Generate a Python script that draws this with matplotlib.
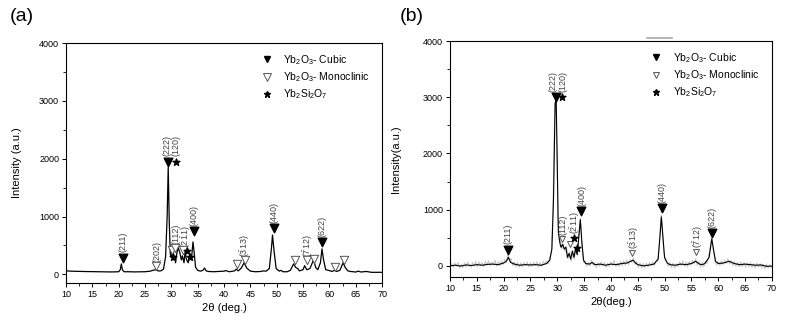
import numpy as np
import matplotlib
matplotlib.use('Agg')
import matplotlib.pyplot as plt
from matplotlib.lines import Line2D

plt.rcParams['font.family'] = ['Liberation Sans', 'DejaVu Sans']
plt.rcParams['mathtext.default'] = 'regular'

# (a) XRD pattern: (2theta, intensity)
pattern_a = [
    (10, 60), (11, 55), (12, 52), (13, 50), (14, 48), (15, 47), (16, 45), (17, 44),
    (18, 42), (19, 42), (20, 45), (20.3, 80), (20.5, 180), (20.7, 80), (21, 45),
    (22, 45), (23, 42), (24, 44), (25, 45), (26, 55), (26.5, 70), (27, 80), (27.5, 60),
    (28, 60), (28.5, 90), (28.9, 300), (29.2, 1000), (29.4, 1850), (29.6, 900),
    (29.8, 350), (30.0, 300), (30.2, 380), (30.4, 250), (30.6, 300), (30.8, 200),
    (31.0, 350), (31.3, 460), (31.6, 380), (31.9, 250), (32.1, 320), (32.4, 200),
    (32.6, 380), (32.9, 250), (33.2, 200), (33.5, 330), (33.8, 250), (34.1, 560),
    (34.3, 400), (34.6, 120), (35, 70), (35.5, 55), (36, 70), (36.3, 110), (36.6, 60),
    (37, 50), (38, 45), (39, 50), (40, 55), (40.3, 65), (41, 45), (42, 60), (42.3, 90),
    (42.7, 60), (43.3, 110), (43.8, 200), (44.3, 110), (45, 55), (46, 45), (47, 50),
    (47.5, 60), (48, 55), (48.6, 100), (49.0, 450), (49.2, 680), (49.5, 400),
    (49.9, 100), (50.5, 55), (50.8, 70), (51.2, 45), (52, 45), (52.6, 70), (53.2, 180),
    (53.6, 120), (54.0, 100), (54.3, 60), (55, 80), (55.3, 150), (55.7, 80), (56.3, 100),
    (57.0, 250), (57.4, 120), (57.8, 80), (58.3, 200), (58.6, 440), (58.9, 250),
    (59.3, 80), (60, 65), (60.5, 50), (61, 70), (61.4, 50), (62, 70), (62.6, 200),
    (63, 120), (63.5, 60), (64, 50), (65, 40), (65.5, 55), (66, 40), (67, 50), (68, 35),
    (69, 35), (70, 35),
]

# (b) smoothed pattern (black)
pattern_b = [
    (10, 0), (11, 10), (12, -5), (13, 15), (14, 5), (15, 20), (16, 10), (17, 25), (18, 30),
    (19, 20), (20, 50), (20.5, 80), (20.9, 150), (21.3, 60), (22, 30), (23, 10), (24, 20),
    (25, 15), (26, 20), (27, 10), (28, 40), (28.6, 100), (29.0, 300), (29.3, 1200),
    (29.6, 2900), (29.8, 2950), (30.0, 1800), (30.2, 600), (30.5, 400), (30.7, 330),
    (31.0, 380), (31.3, 300), (31.6, 330), (31.9, 150), (32.2, 220), (32.5, 120),
    (32.8, 260), (33.1, 150), (33.4, 300), (33.7, 200), (34.0, 500), (34.3, 820),
    (34.6, 400), (34.9, 100), (35.3, 40), (36, 30), (36.5, 60), (37, 20), (38, 30),
    (39, 10), (40, 30), (41, 20), (42, 40), (43, 50), (43.7, 80), (44.1, 100), (44.6, 50),
    (45, 20), (46, 0), (47, 10), (48, 30), (48.8, 120), (49.2, 600), (49.4, 870),
    (49.7, 500), (50, 150), (50.5, 50), (51, 20), (52, 10), (53, 30), (54, 20), (55, 40),
    (55.8, 80), (56.5, 30), (57, 20), (57.5, 40), (58.3, 150), (58.8, 480), (59.1, 300),
    (59.5, 80), (60, 40), (61, 50), (62, 80), (63, 40), (64, 20), (65, 30), (66, 20),
    (67, 10), (68, 15), (69, -10), (70, -5),
]

# (b) raw pattern (light gray, noisy)
raw_b = [
    (10.0, -20), (10.3, 40), (10.6, -30), (10.9, 50), (11.2, -10), (11.5, 60), (11.8, -40),
    (12.1, 30), (12.4, -30), (12.7, 50), (13.0, -20), (13.3, 70), (13.6, 0), (13.9, -30),
    (14.2, 60), (14.5, -10), (14.8, 80), (15.1, -20), (15.4, 70), (15.7, 0), (16.0, 60),
    (16.3, -20), (16.6, 80), (16.9, 10), (17.2, 90), (17.5, 0), (17.8, 70), (18.1, 10),
    (18.4, 100), (18.7, -10), (19.0, 80), (19.3, 0), (19.6, 90), (19.9, 20), (20.2, 110),
    (20.5, 60), (20.8, 200), (21.1, 90), (21.4, 130), (21.7, 0), (22.0, 70), (22.3, -20),
    (22.6, 60), (22.9, -30), (23.2, 50), (23.5, -20), (23.8, 60), (24.1, 0), (24.4, 70),
    (24.7, -20), (25.0, 50), (25.3, -10), (25.6, 60), (25.9, 0), (26.2, 70), (26.5, -20),
    (26.8, 60), (27.1, -10), (27.4, 80), (27.7, 20), (28.0, 90), (28.3, 30), (28.6, 150),
    (28.9, 250), (29.2, 1000), (29.5, 2700), (29.7, 2980), (29.9, 2300), (30.1, 900),
    (30.3, 500), (30.6, 420), (30.9, 300), (31.1, 400), (31.4, 260), (31.7, 350),
    (32.0, 120), (32.3, 250), (32.6, 80), (32.9, 280), (33.2, 120), (33.5, 320),
    (33.8, 180), (34.1, 650), (34.3, 840), (34.6, 350), (34.9, 60), (35.2, 80),
    (35.5, -10), (35.8, 60), (36.1, 0), (36.4, 100), (36.7, 10), (37.0, 60), (37.3, -30),
    (37.6, 50), (37.9, -10), (38.2, 70), (38.5, 0), (38.8, 60), (39.1, -30), (39.4, 50),
    (39.7, -10), (40.0, 70), (40.3, 0), (40.6, 100), (40.9, -10), (41.2, 60), (41.5, -20),
    (41.8, 80), (42.1, 0), (42.4, 90), (42.7, 10), (43.0, 100), (43.3, 20), (43.6, 110),
    (43.9, 60), (44.2, 140), (44.5, 20), (44.8, 80), (45.1, -30), (45.4, 50), (45.7, -40),
    (46.0, 40), (46.3, -40), (46.6, 50), (46.9, -20), (47.2, 60), (47.5, 0), (47.8, 70),
    (48.1, 0), (48.4, 90), (48.7, 80), (49.0, 350), (49.2, 700), (49.4, 900), (49.6, 650),
    (49.8, 300), (50.1, 100), (50.4, 70), (50.7, -10), (51.0, 60), (51.3, -30), (51.6, 50),
    (51.9, -40), (52.2, 40), (52.5, -20), (52.8, 70), (53.1, 0), (53.4, 90), (53.7, -10),
    (54.0, 70), (54.3, -20), (54.6, 80), (54.9, 10), (55.2, 100), (55.5, 30), (55.8, 130),
    (56.1, 10), (56.4, 80), (56.7, -30), (57.0, 60), (57.3, -20), (57.6, 80), (57.9, 40),
    (58.2, 150), (58.5, 350), (58.8, 500), (59.1, 280), (59.4, 100), (59.7, 10),
    (60.0, 80), (60.3, 0), (60.6, 90), (60.9, 20), (61.2, 100), (61.5, 40), (61.8, 130),
    (62.1, 30), (62.4, 100), (62.7, 0), (63.0, 80), (63.3, -10), (63.6, 60), (63.9, -20),
    (64.2, 70), (64.5, -20), (64.8, 60), (65.1, -30), (65.4, 50), (65.7, -20), (66.0, 60),
    (66.3, -30), (66.6, 40), (66.9, -40), (67.2, 50), (67.5, -30), (67.8, 40), (68.1, -40),
    (68.4, 30), (68.7, -50), (69.0, 30), (69.3, -40), (69.6, 20), (69.9, -30),
]

# phase markers (2theta, y of marker)
cubic_a = [(20.8, 290), (29.4, 1950), (34.3, 750), (49.4, 800), (58.6, 560)]
mono_a = [(27.0, 150), (30.1, 420), (30.7, 460), (32.3, 420), (42.5, 180), (44.0, 240),
          (53.4, 240), (55.7, 240), (57.1, 260), (61.0, 130), (62.8, 240)]
silicate_a = [(30.8, 1950), (30.4, 300), (33.0, 400), (33.6, 300)]

cubic_b = [(20.9, 290), (29.7, 3000), (34.5, 980), (49.5, 1030), (58.9, 590)]
mono_b = [(30.9, 470), (32.3, 390), (44.0, 230), (55.8, 250)]
silicate_b = [(30.9, 3000), (33.1, 500), (33.6, 310)]

# hkl labels (text, 2theta, bottom of text)
hkl_a = [('(211)', 20.8, 380), ('(202)', 27.3, 220), ('(222)', 29.2, 2040),
         ('(120)', 30.9, 2040), ('(112)', 30.8, 520), (r'$(2\bar{1}1)$', 32.9, 450),
         ('(400)', 34.3, 840), (r'$(\bar{3}13)$', 44.1, 300), ('(440)', 49.4, 890),
         (r'$(\bar{7}12)$', 55.9, 300), ('(622)', 58.6, 650)]
hkl_b = [('(211)', 20.9, 380), ('(222)', 29.2, 3090), ('(120)', 31.1, 3090),
         ('(112)', 31.0, 540), (r'$(\bar{2}11)$', 33.3, 560), ('(400)', 34.6, 1070),
         (r'$(\bar{3}13)$', 44.4, 300), ('(440)', 49.5, 1120), (r'$(\bar{7}12)$', 56.3, 320),
         ('(622)', 58.9, 680)]


def style_axes(ax, ylim, ylabel, labelpad):
    ax.set_xlim(10, 70)
    ax.set_ylim(*ylim)
    ax.set_xticks(np.arange(10, 71, 5))
    ax.set_xticks(np.arange(12.5, 70, 5), minor=True)
    ax.set_yticks([0, 1000, 2000, 3000, 4000])
    ax.set_yticks([500, 1500, 2500, 3500], minor=True)
    ax.tick_params(which='major', direction='out', length=3, width=0.7, labelsize=6.5, pad=2)
    ax.tick_params(which='minor', direction='out', length=2, width=0.6)
    ax.set_ylabel(ylabel, fontsize=8, labelpad=labelpad)
    for sp in ax.spines.values():
        sp.set_linewidth(0.8)


def draw_markers(ax, cubic, mono, sil, mono_size):
    cx, cy = zip(*cubic)
    ax.scatter(cx, cy, marker='v', s=38, color='black', zorder=5)
    mx, my = zip(*mono)
    ax.scatter(mx, my, marker='v', s=mono_size, facecolor='white', edgecolor='#555555',
               linewidths=0.7, zorder=5)
    sx, sy = zip(*sil)
    ax.scatter(sx, sy, marker='*', s=26, color='black', zorder=5)


def draw_hkl(ax, labels):
    for txt, x, y in labels:
        ax.text(x, y, txt, rotation=90, ha='center', va='bottom', fontsize=6.5, color='#444444')


def draw_legend(ax, mono_size):
    handles = [
        Line2D([], [], marker='v', color='black', ls='none', markersize=5),
        Line2D([], [], marker='v', markerfacecolor='white', markeredgecolor='#555555',
               ls='none', markersize=mono_size, markeredgewidth=0.7),
        Line2D([], [], marker='*', color='black', ls='none', markersize=5),
    ]
    names = ['Yb$_2$O$_3$- Cubic', 'Yb$_2$O$_3$- Monoclinic', 'Yb$_2$Si$_2$O$_7$']
    ax.legend(handles, names, loc='upper right', frameon=False, fontsize=7.5,
              handletextpad=0.6, labelspacing=0.35, borderaxespad=0.3,
              bbox_to_anchor=(0.985, 0.99))


fig = plt.figure(figsize=(7.89, 3.24), dpi=100)

# panel (a)
ax1 = fig.add_axes([0.0837, 0.1265, 0.4005, 0.7407])
xa, ya = np.array(pattern_a).T
ax1.plot(xa, ya, color='black', lw=0.9)
style_axes(ax1, (-150, 4000), 'Intensity (a.u.)', 12)
ax1.set_xlabel('2θ (deg.)', fontsize=8, labelpad=3)
draw_markers(ax1, cubic_a, mono_a, silicate_a, 36)
draw_hkl(ax1, hkl_a)
draw_legend(ax1, 5.5)
fig.text(0.012, 0.935, '(a)', fontsize=14)

# panel (b)
ax2 = fig.add_axes([0.5703, 0.145, 0.408, 0.728])
xr, yr = np.array(raw_b).T
ax2.plot(xr, yr, color='#c4c4c4', lw=0.7)
xb, yb = np.array(pattern_b).T
ax2.plot(xb, yb, color='black', lw=0.8)
style_axes(ax2, (-200, 4000), 'Intensity(a.u.)', 16)
ax2.set_xlabel('2θ(deg.)', fontsize=8, labelpad=3)
draw_markers(ax2, cubic_b, mono_b, silicate_b, 18)
draw_hkl(ax2, hkl_b)
draw_legend(ax2, 4)
fig.text(0.507, 0.935, '(b)', fontsize=14)

# short gray stroke above panel (b)
fig.add_artist(Line2D([0.820, 0.852], [0.882, 0.882], color='#aaaaaa', lw=1.2))

fig.savefig('out.png', dpi=100)
